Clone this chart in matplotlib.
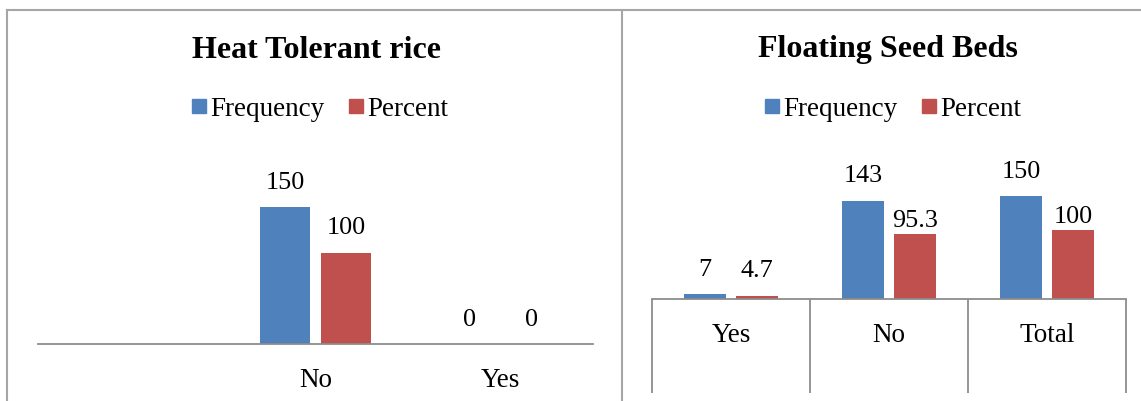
import matplotlib.pyplot as plt
from matplotlib.lines import Line2D

# Heat tolerant rice adoption
heat_cats = ['', 'No', 'Yes']
heat_freq = [None, 150, 0]
heat_pct = [None, 100, 0]

# Floating seed beds adoption
seed_cats = ['Yes', 'No', 'Total']
seed_freq = [7, 143, 150]
seed_pct = [4.7, 95.3, 100]

BLUE = '#4F81BD'
RED = '#C0504D'
GREY = '#8c8c8c'

plt.rcParams['font.family'] = ['Liberation Serif', 'DejaVu Serif']

W, H = 1141, 402
fig = plt.figure(figsize=(W / 100, H / 100), dpi=100)


def px_axes(x0, x1, y_top, y_base):
    return fig.add_axes([x0 / W, 1 - y_base / H, (x1 - x0) / W, (y_base - y_top) / H])


def draw_bars(ax, cats, freq, pct, ymax, pct_lift=None):
    # pct_lift: label offset (points) above each percent bar
    bw = 0.27
    off = 0.165
    for i, (f, p) in enumerate(zip(freq, pct)):
        if f is None:
            continue
        lift_p = pct_lift[i] if pct_lift else 18.3
        for v, dx, c, lift in ((f, -off, BLUE, 18.3), (p, off, RED, lift_p)):
            ax.bar(i + dx, v, width=bw, color=c, zorder=2)
            ax.annotate(f'{v:g}', (i + dx, v), xytext=(0, lift), textcoords='offset points',
                        ha='center', va='center', fontsize=18.8)
    ax.set_xlim(-0.5, len(cats) - 0.5)
    ax.set_ylim(0, ymax)
    ax.set_xticks(range(len(cats)))
    ax.set_xticklabels(cats, fontsize=19.5)
    ax.set_yticks([])
    for s in ('top', 'left', 'right'):
        ax.spines[s].set_visible(False)
    ax.spines['bottom'].set_color(GREY)
    ax.spines['bottom'].set_linewidth(1.3)
    ax.patch.set_alpha(0)


# left chart
ax1 = px_axes(38, 593, 150, 345)
draw_bars(ax1, heat_cats, heat_freq, heat_pct, 195 / 0.913)
ax1.tick_params(axis='x', length=0, pad=16.5)

# right chart, with category dividers below the axis
ax2 = px_axes(652, 1126, 150, 300)
draw_bars(ax2, seed_cats, seed_freq, seed_pct, 150 / 0.687, pct_lift=[18.3, 9.5, 10])
ax2.tick_params(axis='x', which='major', length=0, pad=16.5)
ax2.set_xticks([-0.5, 0.5, 1.5, 2.5], minor=True)
ax2.tick_params(axis='x', which='minor', length=68, width=1.3, color=GREY, direction='out')

# titles
fig.text(316 / W, 1 - 50 / H, 'Heat Tolerant rice', ha='center', va='center',
         fontsize=23, fontweight='bold')
fig.text(888 / W, 1 - 50 / H, 'Floating Seed Beds', ha='center', va='center',
         fontsize=23, fontweight='bold')

# legends
handles = [Line2D([], [], marker='s', linestyle='', markersize=10, color=BLUE),
           Line2D([], [], marker='s', linestyle='', markersize=10, color=RED)]
for xc in (320, 893):
    fig.legend(handles, ['Frequency', 'Percent'], loc='center',
               bbox_to_anchor=(xc / W, 1 - 110 / H), ncol=2, frameon=False,
               fontsize=19.5, handlelength=0.55, handletextpad=0.15, columnspacing=0.9)

# panel borders
border = dict(color='#a6a6a6', linewidth=1.5, transform=fig.transFigure)
fig.add_artist(Line2D([7 / W, 1], [1 - 11 / H, 1 - 11 / H], **border))
fig.add_artist(Line2D([7 / W, 7 / W], [0, 1 - 11 / H], **border))
fig.add_artist(Line2D([622 / W, 622 / W], [0, 1 - 11 / H], **border))

fig.savefig('out.png', dpi=100)
